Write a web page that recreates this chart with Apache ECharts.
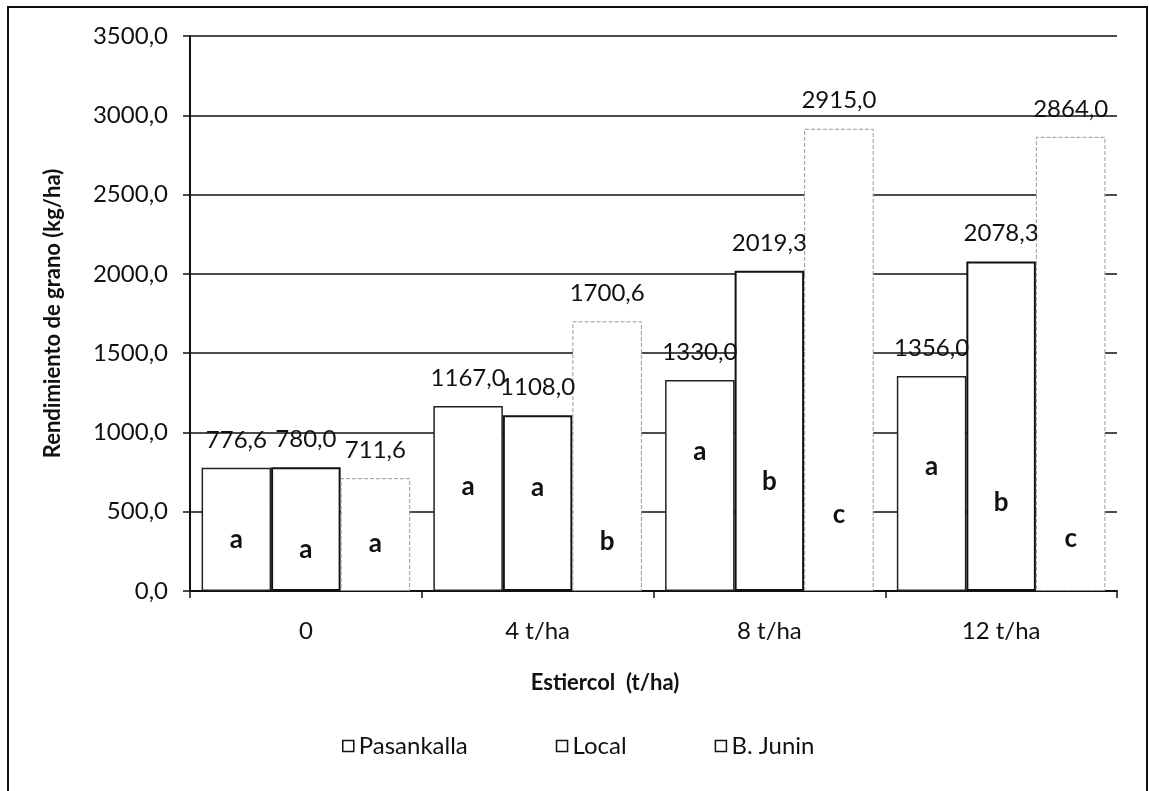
<!DOCTYPE html>
<html>
<head>
<meta charset="utf-8">
<title>Rendimiento de grano</title>
<script src="https://cdn.jsdelivr.net/npm/echarts@6/dist/echarts.min.js"></script>
<style>
  html, body { margin: 0; padding: 0; background: #fff; }
  #chart { width: 1149px; height: 791px; }
</style>
</head>
<body>
<div id="chart"></div>
<script>
// Estiércol doses (x categories)
const categories = ['0', '4 t/ha', '8 t/ha', '12 t/ha'];

// Grain yield (kg/ha) per variety
const pasankalla = [776.6, 1167.0, 1330.0, 1356.0];
const local = [780.0, 1108.0, 2019.3, 2078.3];
const bJunin = [711.6, 1700.6, 2915.0, 2864.0];

// Significance letters per variety and dose
const lettersPasankalla = ['a', 'a', 'a', 'a'];
const lettersLocal = ['a', 'a', 'b', 'b'];
const lettersBJunin = ['a', 'b', 'c', 'c'];

// Height (kg/ha) at which each letter is written inside its bar
const letterLevelPasankalla = [322, 656, 877, 782];
const letterLevelLocal = [259, 650, 687, 555];
const letterLevelBJunin = [296, 309, 479, 328];

// Y axis ticks
const yMin = 0, yMax = 3500, yStep = 500;

const FONT = 'Lato';
const fmt = v => v.toFixed(1).replace('.', ',');

function letterMarks(letters, levels) {
  return {
    symbol: 'rect',
    symbolSize: 1,
    itemStyle: { color: 'rgba(0,0,0,0)' },
    label: {
      show: true,
      position: 'inside',
      formatter: p => p.name,
      color: '#111',
      fontFamily: FONT,
      fontSize: 26,
      fontWeight: 'bold'
    },
    data: letters.map((l, i) => ({ name: l, coord: [categories[i], levels[i]] }))
  };
}

function barSeries(name, values, border, letters, levels) {
  return {
    name: name,
    type: 'bar',
    data: values,
    barGap: '0%',
    barCategoryGap: '10%',
    itemStyle: Object.assign({ color: '#ffffff' }, border),
    label: {
      show: true,
      position: 'top',
      distance: 16,
      formatter: p => fmt(p.value),
      color: '#111',
      fontFamily: FONT,
      fontSize: 24
    },
    markPoint: letterMarks(letters, levels),
    emphasis: { disabled: true }
  };
}

const chart = echarts.init(document.getElementById('chart'), null, { renderer: 'canvas' });

chart.setOption({
  backgroundColor: '#ffffff',
  animation: false,
  grid: { left: 190, right: 32, top: 36, bottom: 200, containLabel: false },
  graphic: [
    {
      type: 'rect',
      shape: { x: 8, y: 7, width: 1139, height: 800 },
      style: { fill: 'none', stroke: '#111', lineWidth: 2 },
      silent: true
    },
    {
      type: 'text',
      x: 605, y: 683,
      style: {
        text: 'Estiercol  (t/ha)',
        fontFamily: FONT, fontSize: 22, fontWeight: 'bold',
        fill: '#111', textAlign: 'center', textVerticalAlign: 'middle'
      },
      silent: true
    }
  ],
  legend: {
    data: ['Pasankalla', 'Local', 'B. Junin'],
    left: 337,
    top: 729,
    icon: 'rect',
    itemWidth: 11,
    itemHeight: 11,
    itemGap: 88,
    itemStyle: { color: '#ffffff', borderColor: '#111', borderWidth: 1.5, borderType: 'solid' },
    textStyle: { fontFamily: FONT, fontSize: 24, color: '#111' },
    selectedMode: false
  },
  xAxis: {
    type: 'category',
    data: categories,
    axisLine: { lineStyle: { color: '#111', width: 2 } },
    axisTick: { show: true, alignWithLabel: false, length: 7, lineStyle: { color: '#111', width: 1.5 } },
    axisLabel: { color: '#111', fontFamily: FONT, fontSize: 24, margin: 28 },
    splitLine: { show: false }
  },
  yAxis: {
    type: 'value',
    min: yMin,
    max: yMax,
    interval: yStep,
    name: 'Rendimiento de grano (kg/ha)',
    nameLocation: 'middle',
    nameGap: 126,
    nameTextStyle: { color: '#111', fontFamily: FONT, fontSize: 22, fontWeight: 'bold' },
    axisLine: { show: true, lineStyle: { color: '#111', width: 2 } },
    axisTick: { show: true, length: 7, lineStyle: { color: '#111', width: 1.5 } },
    axisLabel: { color: '#111', fontFamily: FONT, fontSize: 24, margin: 22, formatter: v => fmt(v) },
    splitLine: { show: true, lineStyle: { color: '#111', width: 1.5 } }
  },
  series: [
    barSeries('Pasankalla', pasankalla,
      { borderColor: '#222', borderWidth: 1.5 },
      lettersPasankalla, letterLevelPasankalla),
    barSeries('Local', local,
      { borderColor: '#111', borderWidth: 2 },
      lettersLocal, letterLevelLocal),
    barSeries('B. Junin', bJunin,
      { borderColor: '#999', borderWidth: 1, borderType: 'dashed' },
      lettersBJunin, letterLevelBJunin)
  ]
});
</script>
</body>
</html>
